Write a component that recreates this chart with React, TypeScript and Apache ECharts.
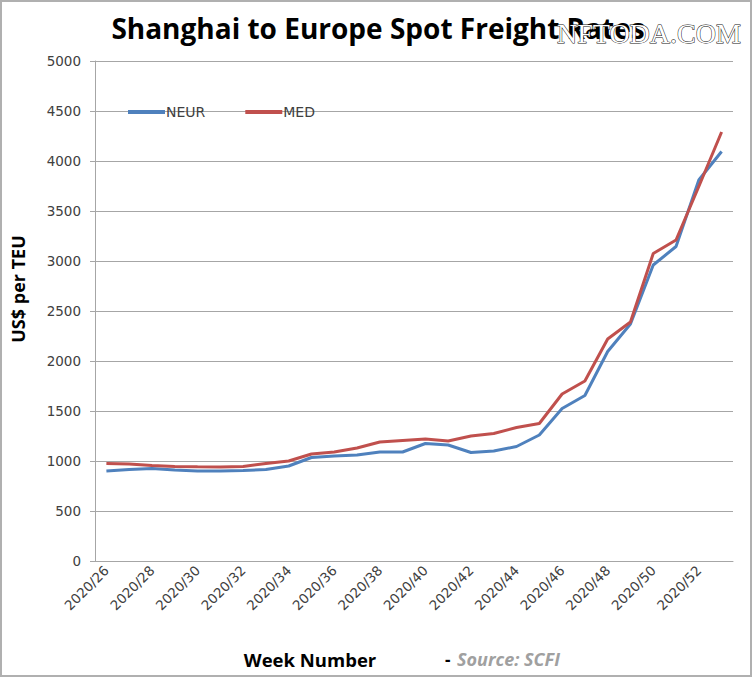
import React, { useEffect, useRef } from "react";
import * as echarts from "echarts";

const weeks: string[] = [
  "2020/26", "2020/27", "2020/28", "2020/29", "2020/30", "2020/31", "2020/32",
  "2020/33", "2020/34", "2020/35", "2020/36", "2020/37", "2020/38", "2020/39",
  "2020/40", "2020/41", "2020/42", "2020/43", "2020/44", "2020/45", "2020/46",
  "2020/47", "2020/48", "2020/49", "2020/50", "2020/51", "2020/52", "2020/53",
];
const neur: number[] = [
  900, 915, 925, 910, 900, 900, 905, 915, 950, 1035, 1050, 1060, 1090, 1090,
  1175, 1160, 1085, 1100, 1145, 1260, 1525, 1655, 2095, 2370, 2960, 3145, 3810, 4095,
];
const med: number[] = [
  975, 970, 955, 945, 942, 940, 945, 975, 1000, 1070, 1090, 1130, 1190, 1205,
  1220, 1200, 1250, 1275, 1335, 1375, 1670, 1800, 2220, 2390, 3075, 3210, 3745, 4290,
];
const yTicks = { min: 0, max: 5000, interval: 500 };

export default function App() {
  const ref = useRef<HTMLDivElement>(null);
  useEffect(() => {
    document.body.style.margin = "0";
    const chart = echarts.init(ref.current!, null, { renderer: "svg" });
    const gridColor = "#a6a6a6";
    const textColor = "#404040";
    chart.setOption({
      animation: false,
      backgroundColor: "#ffffff",
      grid: { left: 95, top: 61, right: 21, bottom: 116 },
      legend: {
        left: 123,
        top: 100,
        itemWidth: 37,
        itemHeight: 4,
        itemGap: 40,
        icon: "rect",
        textStyle: { fontFamily: "DejaVu Sans", fontSize: 14, color: textColor, padding: [0, 0, 0, -4] },
        data: ["NEUR", "MED"],
      },
      xAxis: {
        type: "category",
        data: weeks,
        boundaryGap: true,
        axisLine: { lineStyle: { color: gridColor, width: 1 } },
        axisTick: { interval: 0, length: 5, lineStyle: { color: gridColor } },
        axisLabel: {
          interval: 1,
          rotate: 45,
          fontFamily: "DejaVu Sans",
          fontSize: 13.5,
          color: textColor,
          margin: 7,
        },
        splitLine: { show: false },
      },
      yAxis: {
        type: "value",
        min: yTicks.min,
        max: yTicks.max,
        interval: yTicks.interval,
        axisLine: { show: true, lineStyle: { color: gridColor, width: 1 } },
        axisTick: { show: true, length: 5, lineStyle: { color: gridColor } },
        axisLabel: {
          fontFamily: "DejaVu Sans",
          fontSize: 13.5,
          color: textColor,
          margin: 14,
          formatter: (v: number) => String(v),
        },
        splitLine: { lineStyle: { color: gridColor, width: 1 } },
      },
      series: [
        {
          name: "NEUR",
          type: "line",
          data: neur,
          symbol: "none",
          lineStyle: { color: "#4f81bd", width: 3 },
          itemStyle: { color: "#4f81bd" },
        },
        {
          name: "MED",
          type: "line",
          data: med,
          symbol: "none",
          lineStyle: { color: "#c0504d", width: 3 },
          itemStyle: { color: "#c0504d" },
        },
      ],
      graphic: [
        {
          type: "rect",
          shape: { x: 1, y: 1, width: 750, height: 675 },
          style: { fill: "none", stroke: "#b0b0b0", lineWidth: 2 },
          silent: true,
        },
        {
          type: "text",
          x: 378,
          y: 28,
          style: {
            text: "Shanghai to Europe Spot Freight Rates",
            fontFamily: "Open Sans",
            fontWeight: "bold",
            fontSize: 28,
            fill: "#000",
            align: "center",
            verticalAlign: "middle",
          },
        },
        {
          type: "text",
          x: 557,
          y: 33,
          style: {
            text: "NFTODA.COM",
            fontFamily: "Liberation Serif",
            fontSize: 28,
            fill: "#ffffff",
            stroke: "#111111",
            lineWidth: 1,
            align: "left",
            verticalAlign: "middle",
          },
        },
        {
          type: "text",
          x: 18,
          y: 289,
          rotation: Math.PI / 2,
          style: {
            text: "US$ per TEU",
            fontFamily: "Open Sans",
            fontWeight: "bold",
            fontSize: 18,
            fill: "#000",
            align: "center",
            verticalAlign: "middle",
          },
        },
        {
          type: "text",
          x: 310,
          y: 659,
          style: {
            text: "Week Number",
            fontFamily: "Open Sans",
            fontWeight: "bold",
            fontSize: 18.5,
            fill: "#000",
            align: "center",
            verticalAlign: "middle",
          },
        },
        {
          type: "text",
          x: 445,
          y: 659,
          style: {
            text: "-",
            fontFamily: "Open Sans",
            fontWeight: "bold",
            fontSize: 17,
            fill: "#000",
            align: "left",
            verticalAlign: "middle",
          },
        },
        {
          type: "text",
          x: 457,
          y: 659,
          style: {
            text: "Source: SCFI",
            fontFamily: "Open Sans",
            fontWeight: "bold",
            fontStyle: "italic",
            fontSize: 18,
            fill: "#a0a0a0",
            align: "left",
            verticalAlign: "middle",
          },
        },
      ],
    });
    return () => chart.dispose();
  }, []);
  return <div ref={ref} style={{ width: 754, height: 677 }} />;
}
